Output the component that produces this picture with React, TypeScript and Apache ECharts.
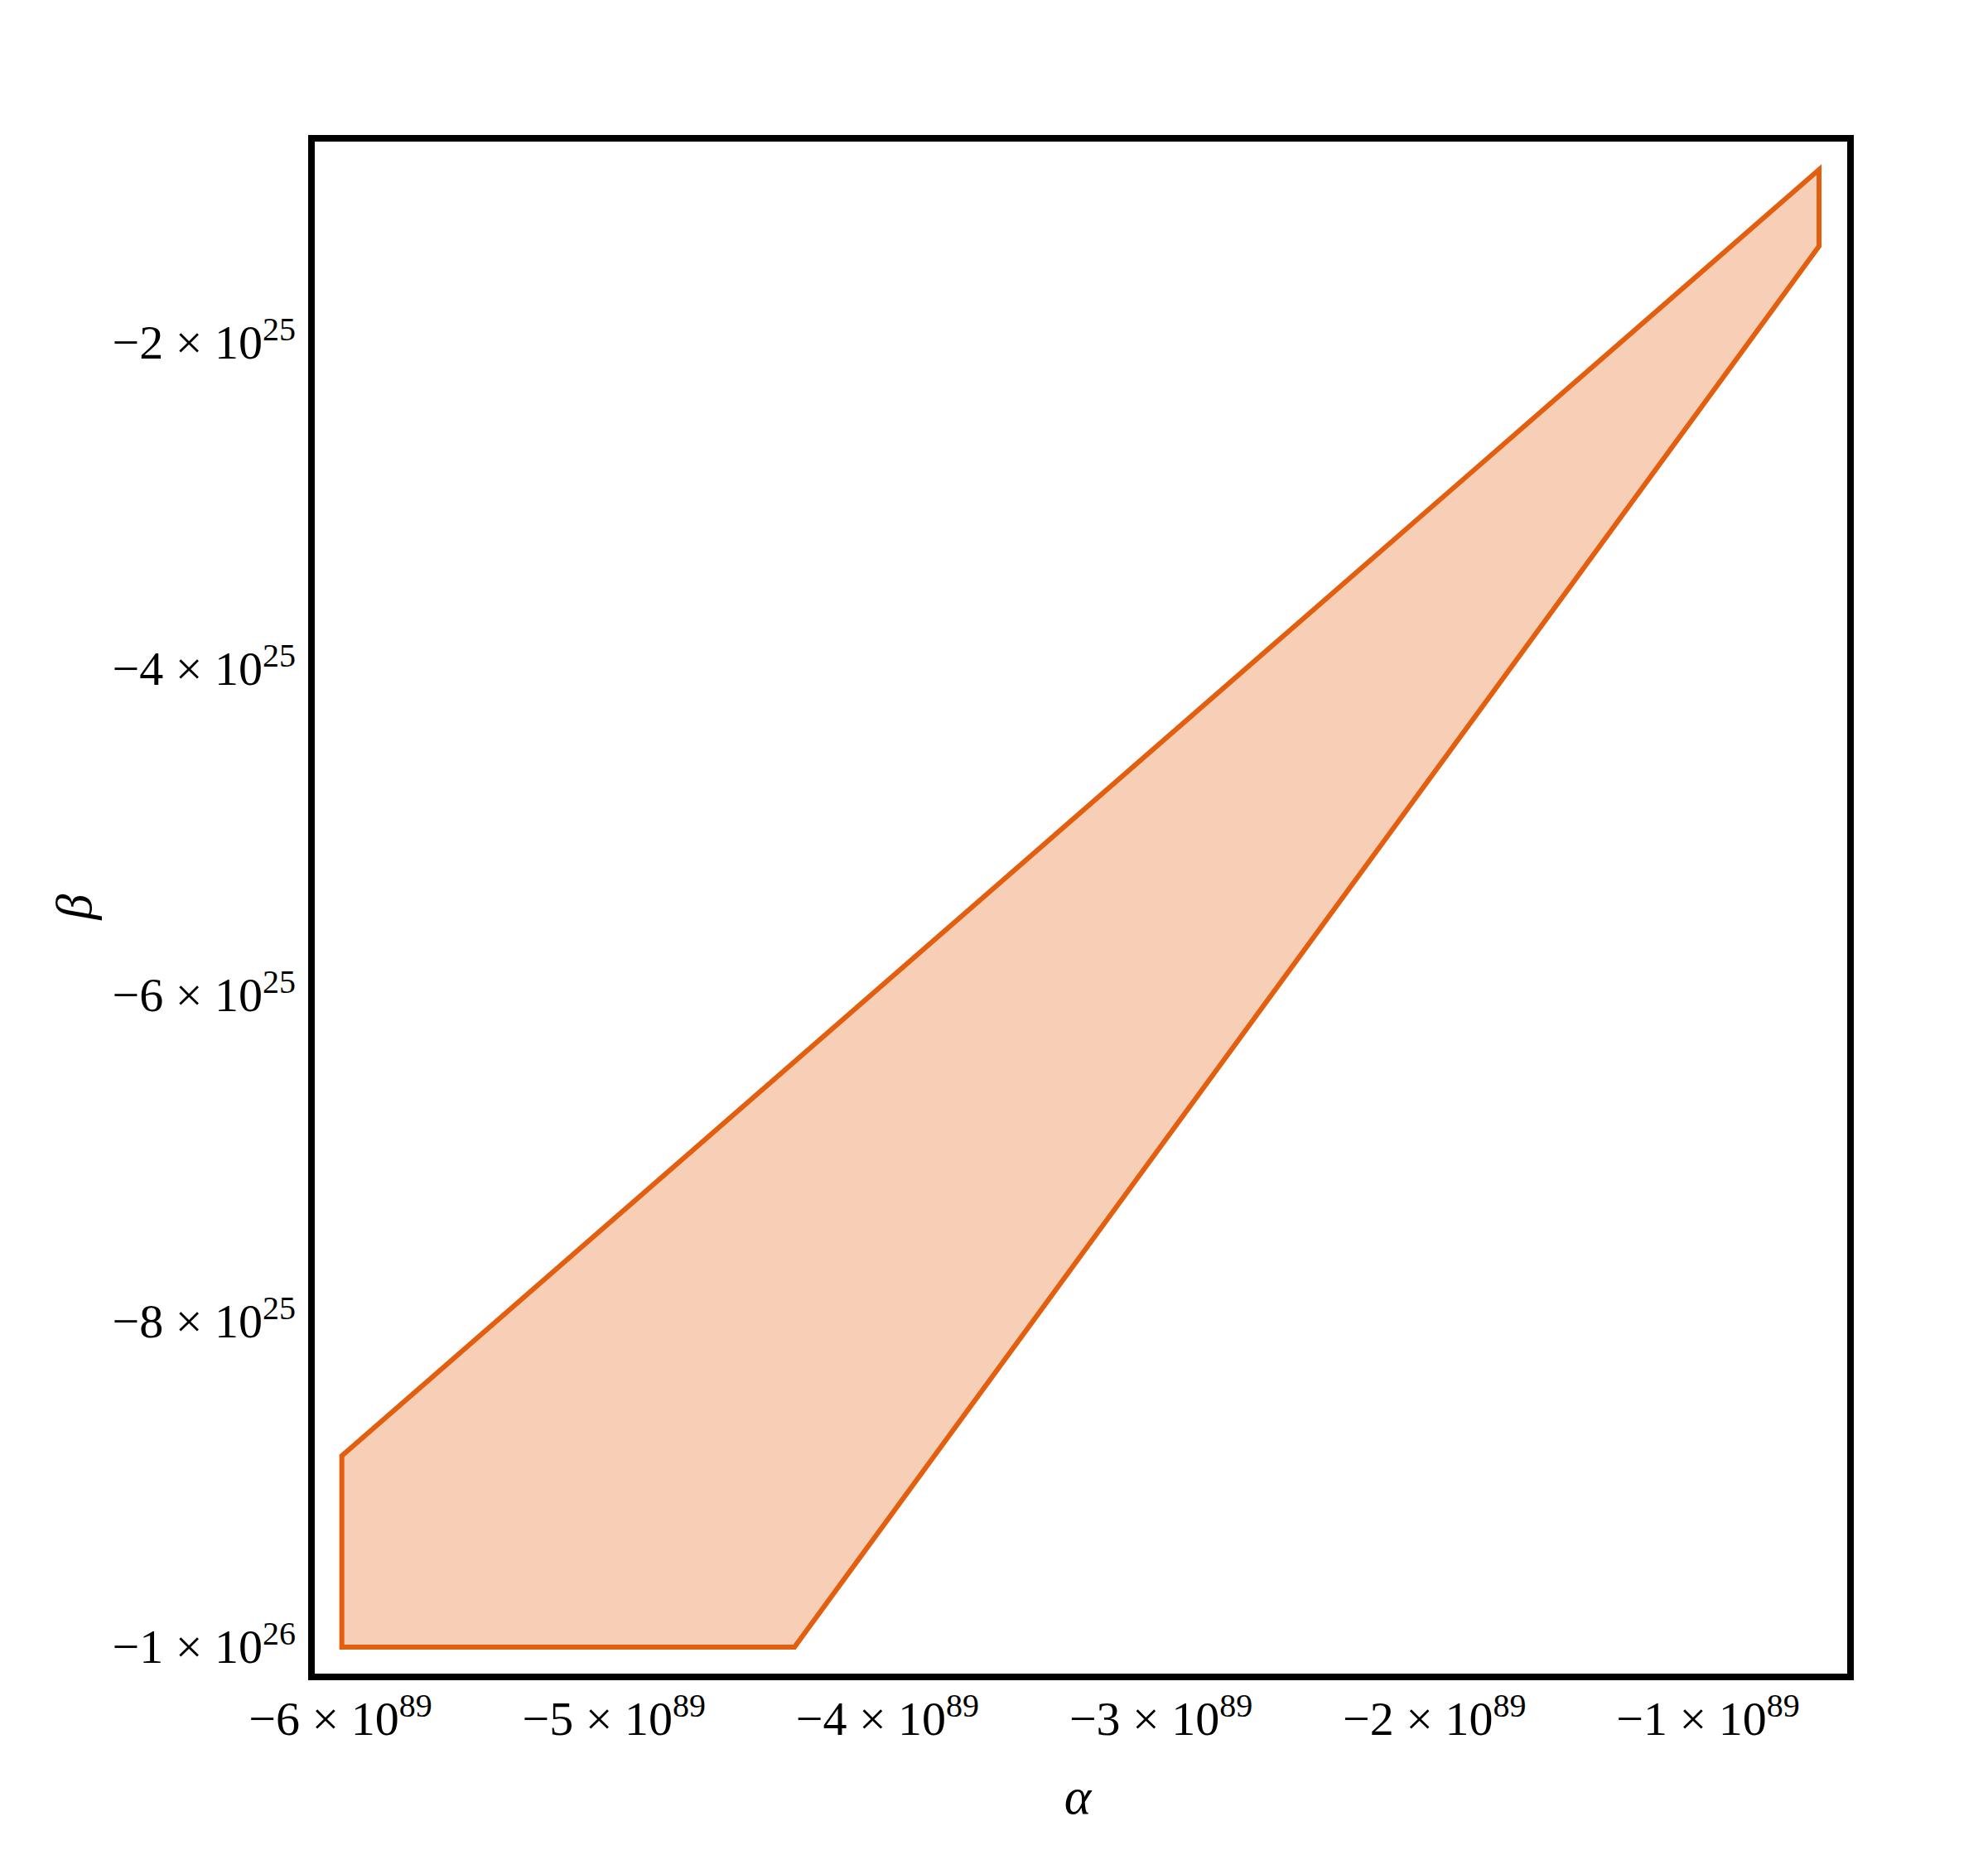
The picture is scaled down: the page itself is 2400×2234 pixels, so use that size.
import React, { useEffect, useRef } from "react";
import * as echarts from "echarts";

// Values are in units of 10^89 (alpha) and 10^25 (beta)
const regionAlpha = [-5.995, -0.594, -0.594, -4.34, -5.995];
const regionBeta = [-8.827, -0.94, -1.41, -10.0, -10.0];

const alphaTickValues = [-6, -5, -4, -3, -2, -1];
const alphaTickMant = ["−6", "−5", "−4", "−3", "−2", "−1"];
const alphaTickExp = ["89", "89", "89", "89", "89", "89"];

const betaTickValues = [-10, -8, -6, -4, -2];
const betaTickMant = ["−1", "−8", "−6", "−4", "−2"];
const betaTickExp = ["26", "25", "25", "25", "25"];

const alphaRange = [-6.106, -0.479];
const betaRange = [-10.183, -0.748];

const FONT = "'Liberation Serif', 'Times New Roman', serif";

function findIdx(arr: number[], v: number) {
  let best = 0;
  for (let i = 0; i < arr.length; i++) {
    if (Math.abs(arr[i] - v) < Math.abs(arr[best] - v)) best = i;
  }
  return best;
}

const rich = {
  m: { fontFamily: FONT, fontSize: 58, lineHeight: 72, color: "#000" },
  s: { fontFamily: FONT, fontSize: 40, lineHeight: 16, verticalAlign: "top", color: "#000" },
};

export default function App() {
  const ref = useRef<HTMLDivElement>(null);
  useEffect(() => {
    if (!ref.current) return;
    const chart = echarts.init(ref.current, undefined, { renderer: "svg" });
    const data = regionAlpha.map((a, i) => [a, regionBeta[i]]);
    chart.setOption({
      animation: false,
      backgroundColor: "#fff",
      grid: {
        left: 376,
        right: 166,
        top: 167,
        bottom: 209,
        show: true,
        borderColor: "#000",
        borderWidth: 8,
        backgroundColor: "transparent",
        containLabel: false,
        outerBoundsMode: "none",
      },
      xAxis: {
        type: "value",
        min: alphaRange[0],
        max: alphaRange[1],
        axisLine: { show: false },
        axisTick: { show: false },
        splitLine: { show: false },
        axisLabel: {
          customValues: alphaTickValues,
          margin: 14,
          formatter: (v: number) => {
            const i = findIdx(alphaTickValues, v);
            return `{m|${alphaTickMant[i]} × 10}{s|${alphaTickExp[i]}}`;
          },
          rich,
        },
      },
      yAxis: {
        type: "value",
        min: betaRange[0],
        max: betaRange[1],
        axisLine: { show: false },
        axisTick: { show: false },
        splitLine: { show: false },
        axisLabel: {
          customValues: betaTickValues,
          margin: 19,
          formatter: (v: number) => {
            const i = findIdx(betaTickValues, v);
            return `{m|${betaTickMant[i]} × 10}{s|${betaTickExp[i]}}`;
          },
          rich,
        },
      },
      graphic: [
        {
          type: "text",
          x: 1301,
          y: 2169,
          style: {
            text: "α",
            font: `italic 62px ${FONT}`,
            fill: "#000",
            textAlign: "center",
            textVerticalAlign: "middle",
          },
        },
        {
          type: "text",
          x: 89,
          y: 1095,
          rotation: Math.PI / 2,
          style: {
            text: "β",
            font: `italic 62px ${FONT}`,
            fill: "#000",
            textAlign: "center",
            textVerticalAlign: "middle",
          },
        },
      ],
      series: [
        {
          type: "custom",
          data,
          encode: { x: 0, y: 1 },
          renderItem: (params: any, api: any) => {
            if (params.dataIndex !== 0) return null;
            const pts = regionAlpha.map((a, i) => api.coord([a, regionBeta[i]]));
            return {
              type: "polygon",
              shape: { points: pts },
              style: {
                fill: "#F7CEB6",
                stroke: "#E35F10",
                lineWidth: 6,
                lineJoin: "miter",
              },
            };
          },
        },
      ],
    });
    return () => chart.dispose();
  }, []);
  return (
    <div
      ref={ref}
      style={{ position: "absolute", left: 0, top: 0, width: 2400, height: 2234, background: "#fff" }}
    />
  );
}
